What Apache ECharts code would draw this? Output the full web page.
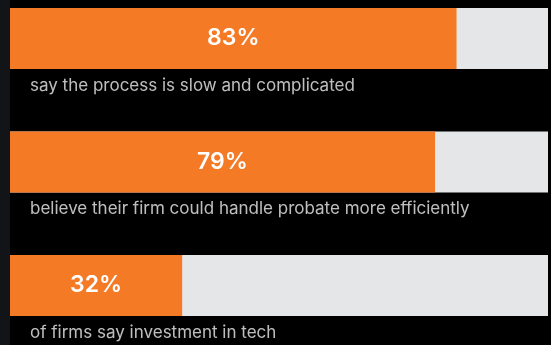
<!DOCTYPE html>
<html>
<head>
<meta charset="utf-8">
<title>Probate survey results</title>
<script src="https://cdn.jsdelivr.net/npm/echarts@6/dist/echarts.min.js"></script>
<style>
  html, body { margin: 0; padding: 0; background: #000; }
  #chart { width: 551px; height: 345px; }
</style>
</head>
<body>
<div id="chart"></div>
<script>
// Survey statements, shares (%) and the sentence printed under each bar
const categories = ['slow', 'efficient', 'tech'];
const shares = [83, 79, 32];
const descriptions = [
  'say the process is slow and complicated',
  'believe their firm could handle probate more efficiently',
  'of firms say investment in tech'
];

const ORANGE = '#F47A26';
const TRACK = '#E5E6E8';
const FONT = 'Inter, "Noto Sans", sans-serif';

const chart = echarts.init(document.getElementById('chart'), null, { renderer: 'canvas' });

chart.setOption({
  backgroundColor: '#000000',
  animation: false,
  graphic: [{
    // thin dark strip along the left edge
    type: 'rect',
    left: 0, top: 0,
    shape: { width: 10, height: 345 },
    style: { fill: '#131418' },
    silent: true
  }],
  grid: { left: 10, right: 3, top: 38.5, bottom: 59.5, containLabel: false },
  xAxis: {
    type: 'value', min: 0, max: 100,
    show: false
  },
  yAxis: {
    type: 'category',
    data: categories,
    inverse: true,
    boundaryGap: false,
    show: false
  },
  series: [
    {
      type: 'bar',
      data: shares,
      barWidth: 61,
      showBackground: true,
      backgroundStyle: { color: TRACK },
      itemStyle: { color: ORANGE },
      label: {
        show: true,
        position: 'inside',
        formatter: '{c}%',
        color: '#ffffff',
        fontFamily: FONT,
        fontSize: 23,
        fontWeight: 600
      },
      emphasis: { disabled: true },
      silent: true
    },
    {
      type: 'scatter',
      data: categories.map((c, i) => ({ value: [0, c], name: descriptions[i] })),
      symbolSize: 0,
      label: {
        show: true,
        position: 'right',
        distance: 0,
        offset: [20, 47],
        formatter: p => p.name,
        color: '#EDEDED',
        fontFamily: FONT,
        fontSize: 17
      },
      emphasis: { disabled: true },
      silent: true
    }
  ]
});
</script>
</body>
</html>
